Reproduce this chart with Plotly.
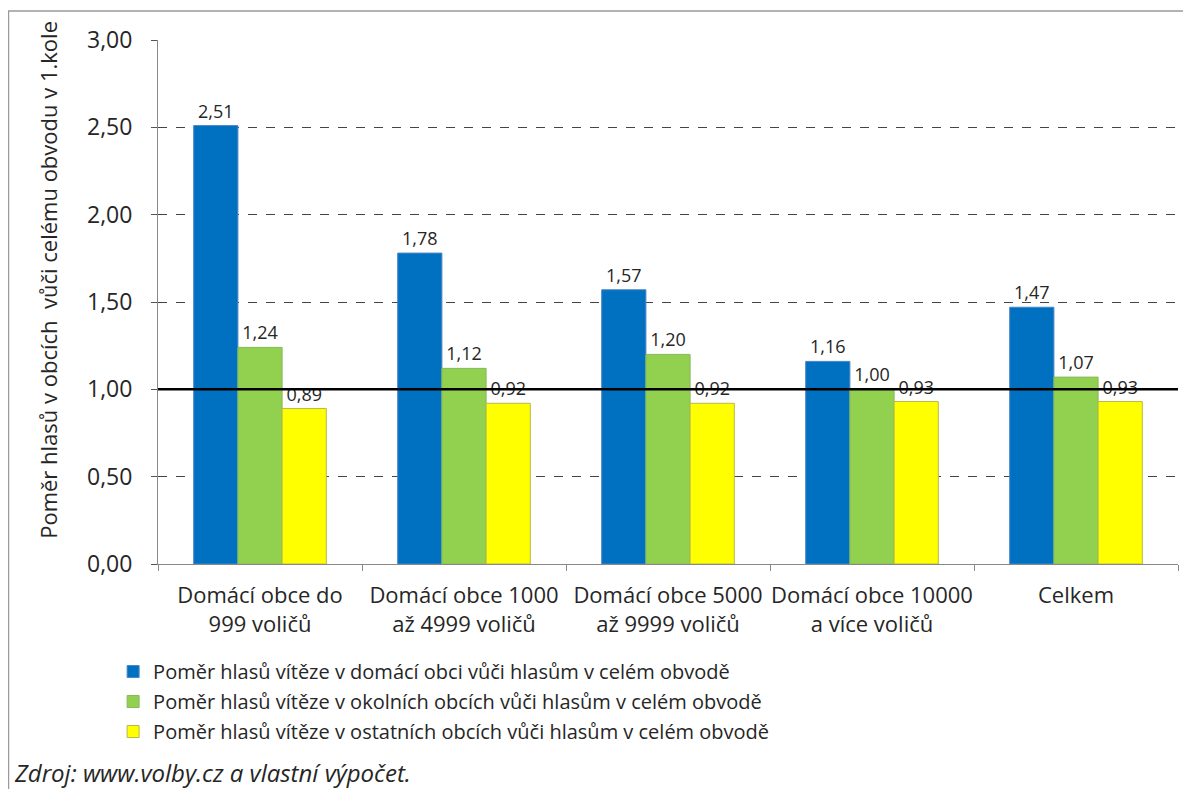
import plotly.graph_objects as go

categories = ["Domácí obce do<br>999 voličů", "Domácí obce 1000<br>až 4999 voličů",
              "Domácí obce 5000<br>až 9999 voličů", "Domácí obce 10000<br>a více voličů", "Celkem"]
domaci = [2.51, 1.78, 1.57, 1.16, 1.47]
okolni = [1.24, 1.12, 1.20, 1.00, 1.07]
ostatni = [0.89, 0.92, 0.92, 0.93, 0.93]
series_names = ["Poměr hlasů vítěze v domácí obci vůči hlasům v celém obvodě",
                "Poměr hlasů vítěze v okolních obcích vůči hlasům v celém obvodě",
                "Poměr hlasů vítěze v ostatních obcích vůči hlasům v celém obvodě"]
y_ticks = [0, 0.5, 1.0, 1.5, 2.0, 2.5, 3.0]
y_ticklabels = ["0,00", "0,50", "1,00", "1,50", "2,00", "2,50", "3,00"]
threshold = 1.0
y_title = "Poměr hlasů v obcích  vůči celému obvodu v 1.kole"
source = "Zdroj: www.volby.cz a vlastní výpočet."

colors = ["#0070C0", "#92D050", "#FFFF00"]
edges = ["#4A86C5", "#86B85A", "#B8B84A"]

FONT = "Open Sans"
TXT = "#262626"
fig = go.Figure()
for i, (vals, name) in enumerate(zip([domaci, okolni, ostatni], series_names)):
    fig.add_trace(go.Bar(
        x=categories, y=vals, name=name,
        marker=dict(color=colors[i], line=dict(color=edges[i], width=1)),
        text=[f"{v:.2f}".replace(".", ",") for v in vals],
        textposition="outside", cliponaxis=False,
        textfont=dict(family=FONT, size=18, color=TXT),
        legendgroup=f"g{i}",
    ))

fig.add_shape(type="line", xref="paper", yref="y", x0=0, x1=1, y0=threshold, y1=threshold,
              line=dict(color="black", width=2.5), layer="above")

# outer frame
fig.add_shape(type="rect", xref="paper", yref="paper", x0=-0.1466, x1=1.0098, y0=-0.5, y1=1.0553,
              line=dict(color="#9a9a9a", width=1.5), layer="below")

fig.add_annotation(text=y_title, xref="paper", yref="paper", textangle=-90,
                   x=-0.108, y=0.542, xanchor="center", yanchor="middle", showarrow=False,
                   font=dict(family=FONT, size=22, color=TXT))

fig.add_annotation(text=f"<i>{source}</i>", xref="paper", yref="paper",
                   x=-0.143, y=-0.397, xanchor="left", yanchor="middle", showarrow=False,
                   font=dict(family=FONT, size=24, color=TXT))

fig.update_layout(
    width=1183, height=781,
    margin=dict(l=150, r=13, t=32, b=225, autoexpand=False),
    paper_bgcolor="white", plot_bgcolor="white",
    barmode="group", bargap=0.35, bargroupgap=0,
    font=dict(family=FONT, color=TXT),
    showlegend=True,
    legend=dict(orientation="v", x=-0.044, y=-0.168, xanchor="left", yanchor="top",
                font=dict(family=FONT, size=20, color=TXT),
                tracegroupgap=1, itemwidth=30, bgcolor="rgba(0,0,0,0)"),
)
fig.update_xaxes(type="category", tickson="boundaries", ticks="outside", ticklen=6,
                 tickcolor="#888888", showline=True, linecolor="#888888", linewidth=1,
                 showgrid=False, automargin=False, ticklabelstandoff=12, tickangle=0,
                 tickfont=dict(family=FONT, size=22, color=TXT))
fig.update_yaxes(range=[0, 3], tickvals=y_ticks, ticktext=y_ticklabels,
                 ticks="outside", ticklen=6, tickcolor="#555555",
                 showline=True, linecolor="#888888", linewidth=1,
                 showgrid=True, gridcolor="#444444", griddash="dash", gridwidth=1,
                 zeroline=False, automargin=False, ticklabelstandoff=14,
                 tickfont=dict(family=FONT, size=23, color=TXT))

fig.write_html("out.html")
